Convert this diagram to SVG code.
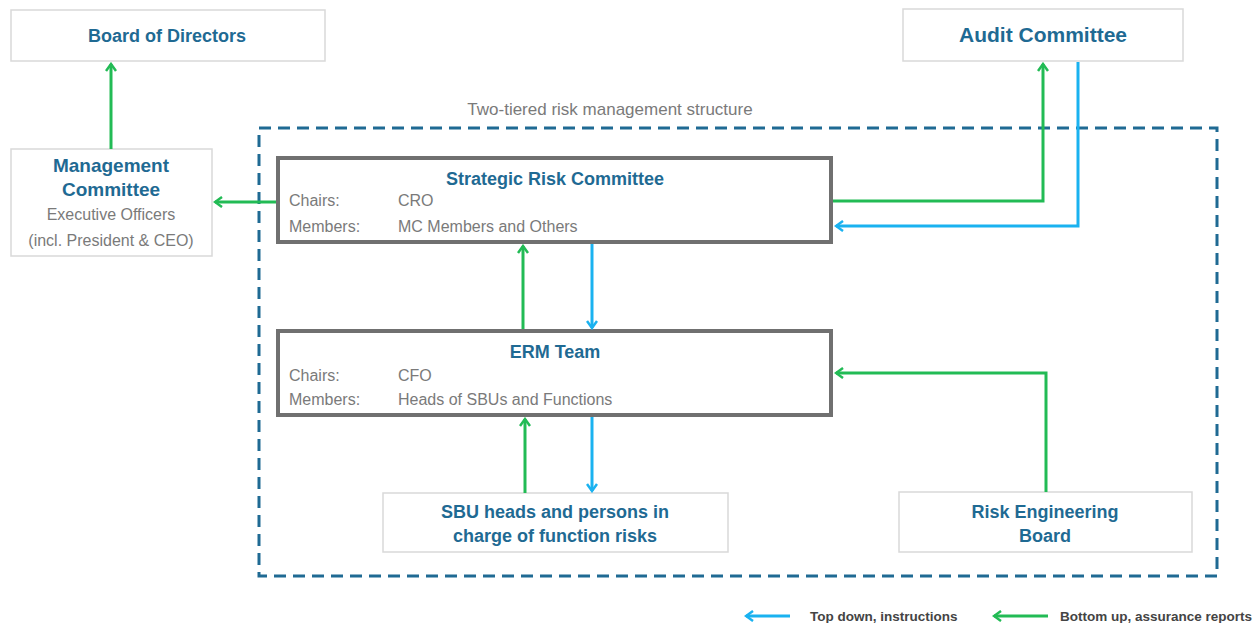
<svg xmlns="http://www.w3.org/2000/svg" width="1256" height="623" viewBox="0 0 1256 623">
  <style>
    .box { fill: #ffffff; stroke: #d9d9d9; stroke-width: 1.5; }
    .tier { fill: #ffffff; stroke: #707070; stroke-width: 4; }
    .title { font-family: "Liberation Sans", Arial, sans-serif; font-weight: bold; fill: #1f6a93; font-size: 18px; text-anchor: middle; }
    .sub { font-family: "Liberation Sans", Arial, sans-serif; fill: #7a7a7a; font-size: 16px; }
    .subc { font-family: "Liberation Sans", Arial, sans-serif; fill: #7a7a7a; font-size: 16px; text-anchor: middle; }
    .legend { font-family: "Liberation Sans", Arial, sans-serif; font-weight: bold; fill: #444444; font-size: 13.5px; }
    .up { fill: none; stroke: #22bb55; stroke-width: 3; }
    .down { fill: none; stroke: #1ab2f0; stroke-width: 3; }
  </style>
  <defs>
    <marker id="headGreen" viewBox="0 0 12 12" refX="10" refY="6" markerWidth="12" markerHeight="12" markerUnits="userSpaceOnUse" orient="auto">
      <polyline points="3,1 10,6 3,11" fill="none" stroke="#22bb55" stroke-width="2.5"/>
    </marker>
    <marker id="headBlue" viewBox="0 0 12 12" refX="10" refY="6" markerWidth="12" markerHeight="12" markerUnits="userSpaceOnUse" orient="auto">
      <polyline points="3,1 10,6 3,11" fill="none" stroke="#1ab2f0" stroke-width="2.5"/>
    </marker>
  </defs>

  <!-- two-tiered structure frame -->
  <g id="frame">
    <rect x="259" y="128" width="958" height="448" fill="none" stroke="#1f6a93" stroke-width="3" stroke-dasharray="12 7"/>
    <text x="610" y="115" class="subc" style="font-size:17px">Two-tiered risk management structure</text>
  </g>

  <g id="board">
    <rect class="box" x="11" y="10" width="314" height="51"/>
    <text class="title" x="167" y="42">Board of Directors</text>
  </g>

  <g id="management">
    <rect class="box" x="11" y="149" width="201" height="107"/>
    <text class="title" x="111" y="172" style="font-size:19px">Management</text>
    <text class="title" x="111" y="196" style="font-size:19px">Committee</text>
    <text class="subc" x="111" y="220">Executive Officers</text>
    <text class="subc" x="111" y="246">(incl. President &amp; CEO)</text>
  </g>

  <g id="audit">
    <rect class="box" x="903" y="9" width="280" height="52"/>
    <text class="title" x="1043" y="42" style="font-size:21px">Audit Committee</text>
  </g>

  <g id="src">
    <rect class="tier" x="278" y="158" width="553" height="84"/>
    <text class="title" x="555" y="185">Strategic Risk Committee</text>
    <text class="sub" x="289" y="206">Chairs:</text>
    <text class="sub" x="398" y="206">CRO</text>
    <text class="sub" x="289" y="232">Members:</text>
    <text class="sub" x="398" y="232">MC Members and Others</text>
  </g>

  <g id="erm">
    <rect class="tier" x="278" y="331" width="553" height="84"/>
    <text class="title" x="555" y="358">ERM Team</text>
    <text class="sub" x="289" y="381">Chairs:</text>
    <text class="sub" x="398" y="381">CFO</text>
    <text class="sub" x="289" y="405">Members:</text>
    <text class="sub" x="398" y="405">Heads of SBUs and Functions</text>
  </g>

  <g id="sbu">
    <rect class="box" x="383" y="493" width="345" height="59"/>
    <text class="title" x="555" y="518">SBU heads and persons in</text>
    <text class="title" x="555" y="542">charge of function risks</text>
  </g>

  <g id="reb">
    <rect class="box" x="899" y="492" width="293" height="60"/>
    <text class="title" x="1045" y="518">Risk Engineering</text>
    <text class="title" x="1045" y="542">Board</text>
  </g>

  <g id="connectors">
    <line class="up" x1="111" y1="149" x2="111" y2="64" marker-end="url(#headGreen)"/>
    <line class="up" x1="276" y1="202" x2="215" y2="202" marker-end="url(#headGreen)"/>
    <polyline class="up" points="833,201 1043,201 1043,64" marker-end="url(#headGreen)"/>
    <polyline class="down" points="1078,62 1078,226 836,226" marker-end="url(#headBlue)"/>
    <line class="up" x1="523" y1="329" x2="523" y2="246" marker-end="url(#headGreen)"/>
    <line class="down" x1="592" y1="244" x2="592" y2="328" marker-end="url(#headBlue)"/>
    <line class="up" x1="525" y1="493" x2="525" y2="419" marker-end="url(#headGreen)"/>
    <line class="down" x1="592" y1="417" x2="592" y2="491" marker-end="url(#headBlue)"/>
    <polyline class="up" points="1046,492 1046,373 836,373" marker-end="url(#headGreen)"/>
  </g>

  <g id="legend">
    <line class="down" x1="790" y1="616" x2="746" y2="616" marker-end="url(#headBlue)"/>
    <text class="legend" x="810" y="621">Top down, instructions</text>
    <line class="up" x1="1048" y1="616" x2="994" y2="616" marker-end="url(#headGreen)"/>
    <text class="legend" x="1060" y="621">Bottom up, assurance reports</text>
  </g>
</svg>
